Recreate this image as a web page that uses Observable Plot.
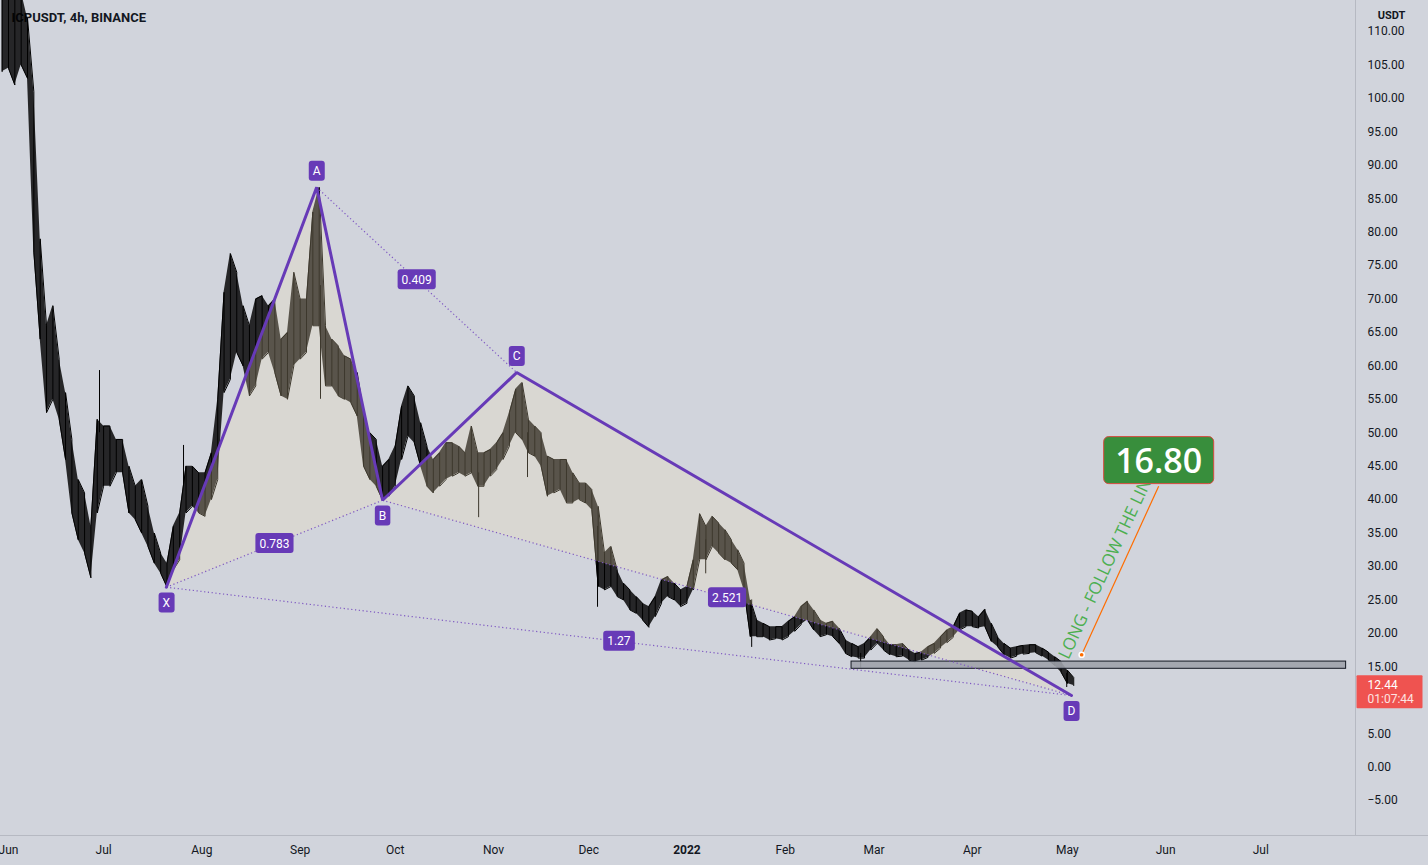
<!DOCTYPE html>
<html>
<head>
<meta charset="utf-8">
<script src="https://cdn.jsdelivr.net/npm/d3@7"></script>
<script src="https://cdn.jsdelivr.net/npm/@observablehq/plot@0.6"></script>
<style>
html, body { margin: 0; padding: 0; background: #d1d4dc; }
#chart { width: 1428px; height: 865px; overflow: hidden; }
</style>
</head>
<body>
<div id="chart"></div>
<script>
// ---------- DATA ----------
const sampleDates = [
"2021-05-30","2021-06-01","2021-06-03","2021-06-05","2021-06-07","2021-06-09","2021-06-11","2021-06-13","2021-06-15","2021-06-17","2021-06-19","2021-06-21","2021-06-23","2021-06-25","2021-06-27","2021-06-29",
"2021-07-01","2021-07-03","2021-07-05","2021-07-07","2021-07-09","2021-07-11","2021-07-13","2021-07-15","2021-07-17","2021-07-19","2021-07-21","2021-07-23","2021-07-25","2021-07-27","2021-07-29","2021-07-31",
"2021-08-02","2021-08-04","2021-08-06","2021-08-08","2021-08-10","2021-08-12","2021-08-14","2021-08-16","2021-08-18","2021-08-20","2021-08-22","2021-08-24","2021-08-26","2021-08-28","2021-08-30",
"2021-09-01","2021-09-03","2021-09-05","2021-09-07","2021-09-09","2021-09-11","2021-09-13","2021-09-15","2021-09-17","2021-09-19","2021-09-21","2021-09-23","2021-09-25","2021-09-27","2021-09-29",
"2021-10-01","2021-10-03","2021-10-05","2021-10-07","2021-10-09","2021-10-11","2021-10-13","2021-10-15","2021-10-17","2021-10-19","2021-10-21","2021-10-23","2021-10-25","2021-10-27","2021-10-29","2021-10-31",
"2021-11-02","2021-11-04","2021-11-06","2021-11-08","2021-11-10","2021-11-12","2021-11-14","2021-11-16","2021-11-18","2021-11-20","2021-11-22","2021-11-24","2021-11-26","2021-11-28","2021-11-30",
"2021-12-02","2021-12-04","2021-12-06","2021-12-08","2021-12-10","2021-12-12","2021-12-14","2021-12-16","2021-12-18","2021-12-20","2021-12-22","2021-12-24","2021-12-26","2021-12-28","2021-12-30",
"2022-01-01","2022-01-03","2022-01-05","2022-01-07","2022-01-09","2022-01-11","2022-01-13","2022-01-15","2022-01-17","2022-01-19","2022-01-21","2022-01-23","2022-01-25","2022-01-27","2022-01-29","2022-01-31",
"2022-02-02","2022-02-04","2022-02-06","2022-02-08","2022-02-10","2022-02-12","2022-02-14","2022-02-16","2022-02-18","2022-02-20","2022-02-22","2022-02-24","2022-02-26","2022-02-28",
"2022-03-02","2022-03-04","2022-03-06","2022-03-08","2022-03-10","2022-03-12","2022-03-14","2022-03-16","2022-03-18","2022-03-20","2022-03-22","2022-03-24","2022-03-26","2022-03-28","2022-03-30",
"2022-04-01","2022-04-03","2022-04-05","2022-04-07","2022-04-09","2022-04-11","2022-04-13","2022-04-15","2022-04-17","2022-04-19","2022-04-21","2022-04-23","2022-04-25","2022-04-27","2022-04-29",
"2022-05-01","2022-05-03"
];
const highs = [
118,118,117,116,112,101,79,66,69,61,56,49,43,41,36,52,
51,51,49,49,45,42,43,39,35,32,30.5,36,38,45,45,44,
44,47,55,71,76.8,74,69,66,70,70.5,69,70,64,65,74,
70,70,83,86.7,66,64,63,61.5,61,59,53,50,49,45,46,
48,54,57,55.5,51.5,48,46,47,48.5,48.5,48,47,51,47,47,47.5,
48.5,50,53,56.5,57.5,52,51,50,46.5,46,46,46,44,42.5,42.5,
41.5,39,32,33,29.5,27.5,26.5,25.5,24.5,24,25.5,28,28.5,27.5,26.5,
27,31,37.9,36,37.5,36.5,35.5,34,32.5,30.5,25,22,21.5,21,21,21,
21.8,22.5,24,24.8,23.5,22,21.5,21.8,20.8,19,18.5,18,18.5,19.5,
20.7,19.5,18.3,18.3,18.5,17.5,17,17.2,18,18.5,19.5,20.5,21,23,23.5,
23.3,22.5,23.6,21.5,19.5,18.5,17.8,18,18.2,18.3,18.3,17.8,17.2,16.5,15.8,
14.5,13.4
];
const lows = [
104,104.5,102,105,103,77,64,53,55,52,46,38,34,32,28.3,38,
42,42,44,44,38,37,35,33,30.5,29,26.9,29.5,31,38,39,38,
37.5,40,43,56,58,62,60,55.5,57,61,62,59,55.5,55,60,
61,62,66,66,57,57,55.5,55,54.5,52.5,45,43,42,39.9,40.5,
42,46,49.5,48.5,45,42,41,42,43,43.5,44,43.5,44,42,42,43.5,
44.5,46,48,50,49,47,46.5,45,40.5,41,41.5,39.5,39.5,40,39.5,
38.5,27,26.5,27,25.5,25,23.5,23,22,20.9,22.5,24.5,25.5,25,24,
24.5,26.5,31,31,33,32,31,30.5,29.5,26.5,19.5,19.5,19.5,19,19.2,19,
19.5,20.3,21.3,22,20.5,19.5,19.8,19.5,18.5,17,16.5,16.3,16.3,17.5,
18.5,17.5,16.8,16.5,16.6,16,15.7,16,16.4,17,17.8,18.6,19.4,20.5,21,
21,20.8,21,18.8,18,16.8,16.3,16.6,16.9,17,17.1,16.6,16,15.2,14.2,
12.5,12.2
];
// long wicks
const spikeDates = ["2021-06-29T17:00Z","2021-07-26T05:00Z","2021-09-07T10:00Z","2021-10-27T07:00Z","2021-11-11T17:00Z","2021-12-03T19:00Z","2022-01-06T22:00Z","2022-01-21T10:00Z","2022-02-24T19:00Z","2022-04-30T19:00Z"];
const spikeFrom  = [50, 42, 72, 44, 50, 36, 34, 25, 17, 14];
const spikeTo    = [59.3, 48.1, 55, 37.3, 43.3, 23.9, 28.9, 17.9, 14.8, 11.9];

// harmonic pattern
const patternNames  = ["X","A","B","C","D"];
const patternDates  = ["2021-07-20T19:00Z","2021-09-06T05:00Z","2021-09-27T00:00Z","2021-11-08T07:00Z","2022-05-02T07:00Z"];
const patternPrices = [26.9, 86.7, 39.9, 59.0, 10.7];
const patternLabelPos = ["below","above","below","above","below"];
const ratioPairs = [[0,2],[1,3],[2,4],[0,4]];
const ratioTexts = ["0.783","0.409","2.521","1.27"];

// support zone
const zoneStart = ["2022-02-21T22:00Z"];
const zoneEnd   = ["2022-07-27T22:00Z"];
const zoneLow   = [14.7];
const zoneHigh  = [15.78];

// target arrow
const targetDates  = ["2022-05-05T12:00Z","2022-05-29T19:00Z"];
const targetPrices = [16.8, 42.0];
const targetText = "16.80";
const noteText = "LONG - FOLLOW THE LINE";
const noteDate = "2022-05-13T12:00Z";
const notePrice = 30.3;

// last price
const lastPrice = 12.44;
const lastPriceText = "12.44";
const countdownText = "01:07:44";

// axes (10.00 is hidden behind the last-price tag in the reference)
const priceTicks = [-5,0,5,15,20,25,30,35,40,45,50,55,60,65,70,75,80,85,90,95,100,105,110];
const monthTickDates = ["2021-06-01","2021-07-01","2021-08-01","2021-09-01","2021-10-01","2021-11-01","2021-12-01","2022-01-01","2022-02-01","2022-03-01","2022-04-01","2022-05-01","2022-06-01","2022-07-01"];
const monthTickLabels = ["Jun","Jul","Aug","Sep","Oct","Nov","Dec","2022","Feb","Mar","Apr","May","Jun","Jul"];
const title = "ICPUSDT, 4h, BINANCE";
const currency = "USDT";

// ---------- BUILD ----------
const priceRows = sampleDates.map((d, i) => ({date: new Date(d), hi: highs[i], lo: lows[i]}));
// path through each sample's low/high (alternating order) -> candle-like texture
const zigRows = priceRows.flatMap((r, i) => i % 2 === 0
  ? [{date: r.date, v: r.lo}, {date: r.date, v: r.hi}]
  : [{date: r.date, v: r.hi}, {date: r.date, v: r.lo}]);
const spikeRows = spikeDates.map((d, i) => ({date: new Date(d), from: spikeFrom[i], to: spikeTo[i]}));
const pts = patternNames.map((n, i) => ({name: n, date: new Date(patternDates[i]), price: patternPrices[i], pos: patternLabelPos[i]}));
const triRows = [
  ...[0,1,2].map(i => ({...pts[i], tri: "XAB"})),
  ...[2,3,4].map(i => ({...pts[i], tri: "BCD"}))
];
const pairRows = ratioPairs.map(([a, b], k) => ({
  d1: pts[a].date, p1: pts[a].price, d2: pts[b].date, p2: pts[b].price,
  mid: new Date((+pts[a].date + +pts[b].date) / 2), midP: (pts[a].price + pts[b].price) / 2,
  text: ratioTexts[k]
}));
const zoneRows = zoneStart.map((s, i) => ({start: new Date(s), end: new Date(zoneEnd[i]), lo: zoneLow[i], hi: zoneHigh[i]}));
const targetRow = [{d1: new Date(targetDates[0]), p1: targetPrices[0], d2: new Date(targetDates[1]), p2: targetPrices[1]}];
const monthTicks = monthTickDates.map(d => new Date(d));
const monthLabel = new Map(monthTicks.map((d, i) => [+d, monthTickLabels[i]]));

const PURPLE = "#673ab7";
const chart = Plot.plot({
  width: 1428,
  height: 865,
  marginLeft: 0,
  marginRight: 73,
  marginTop: 0,
  marginBottom: 30,
  style: {background: "#d1d4dc", fontFamily: "Roboto, sans-serif", fontSize: "12px", color: "#131722"},
  x: {type: "utc", domain: [new Date("2021-05-29T11:30Z"), new Date("2022-07-30T21:00Z")]},
  y: {domain: [-10.23, 114.64]},
  marks: [
    Plot.text([title], {frameAnchor: "top-left", dx: 11, dy: 17, textAnchor: "start", lineAnchor: "middle", fontWeight: "bold", fontSize: 13, fill: "#131722"}),
    // price
    Plot.areaY(priceRows, {x: "date", y1: "lo", y2: "hi", fill: "#000", fillOpacity: 0.82, clip: true}),
    Plot.line(zigRows, {x: "date", y: "v", stroke: "#000", strokeWidth: 1, strokeLinejoin: "miter", clip: true}),
    Plot.ruleX(spikeRows, {x: "date", y1: "from", y2: "to", stroke: "#000", strokeWidth: 1, clip: true}),
    // pattern fill
    Plot.line(triRows, {x: "date", y: "price", z: "tri", fill: "#f5deb3", fillOpacity: 0.25, stroke: "none"}),
    // support zone
    Plot.rect(zoneRows, {x1: "start", x2: "end", y1: "lo", y2: "hi", fill: "#9fa2ab", fillOpacity: 0.9, stroke: "#131722", strokeWidth: 1}),
    // dotted ratio lines
    Plot.link(pairRows, {x1: "d1", y1: "p1", x2: "d2", y2: "p2", stroke: "#7e57c2", strokeWidth: 1.2, strokeDasharray: "1.2,2.6"}),
    // solid pattern
    Plot.line(pts, {x: "date", y: "price", stroke: PURPLE, strokeWidth: 3, strokeLinejoin: "miter"}),
    // labels
    Plot.text(pts, {filter: d => d.pos === "above", x: "date", y: "price", text: "name", dy: -16, fill: "white", fontSize: 12}),
    Plot.text(pts, {filter: d => d.pos === "below", x: "date", y: "price", text: "name", dy: 16, fill: "white", fontSize: 12}),
    Plot.text(pairRows, {x: "mid", y: "midP", text: "text", fill: "white", fontSize: 12}),
    // note + target
    Plot.text([noteText], {x: () => new Date(noteDate), y: () => notePrice, rotate: -65, fill: "#4caf50", fontSize: 17, fontFamily: "Open Sans", textAnchor: "middle"}),
    Plot.link(targetRow, {x1: "d1", y1: "p1", x2: "d2", y2: "p2", stroke: "#ff6d00", strokeWidth: 1.2}),
    Plot.dot(targetRow, {x: "d1", y: "p1", r: 2.6, fill: "#ff6d00", stroke: "white", strokeWidth: 1.5}),
    Plot.text(targetRow, {x: "d2", y: "p2", text: () => targetText, dy: -24, fill: "white", fontSize: 34, fontWeight: 600, fontFamily: "Open Sans"}),
    // axes
    Plot.axisY(priceTicks, {anchor: "right", tickSize: 0, tickPadding: 12, tickFormat: d3.format(".2f"), fontSize: 12, fill: "#131722"}),
    Plot.axisX(monthTicks.filter(d => monthLabel.get(+d) !== "2022"), {tickSize: 0, tickPadding: 10, tickFormat: d => monthLabel.get(+d), fontSize: 12, fill: "#131722"}),
    Plot.axisX(monthTicks.filter(d => monthLabel.get(+d) === "2022"), {tickSize: 0, tickPadding: 10, tickFormat: d => monthLabel.get(+d), fontSize: 12, fontWeight: "bold", fill: "#131722"}),
    Plot.text([currency], {frameAnchor: "top-right", dx: 36, dy: 15, lineAnchor: "middle", textAnchor: "middle", fontSize: 11, fontWeight: "bold", fill: "#131722"}),
    Plot.text([lastPrice], {y: d => d, text: () => lastPriceText, frameAnchor: "right", dx: 12, dy: 1.5, textAnchor: "start", fill: "white", fontSize: 12}),
    Plot.text([lastPrice], {y: d => d, text: () => countdownText, frameAnchor: "right", dx: 12, dy: 15.5, textAnchor: "start", fill: "#fde3e1", fontSize: 12})
  ]
});
document.getElementById("chart").appendChild(chart);

// ---------- label boxes (placed behind the texts Plot drew) ----------
const NS = "http://www.w3.org/2000/svg";
const svg = chart.tagName.toLowerCase() === "svg" ? chart : chart.querySelector("svg");
function addBox(t, o) {
  const b = t.getBBox();
  const W = o.w != null ? o.w : b.width + 2 * o.padX;
  const H = o.h != null ? o.h : b.height + 2 * o.padY;
  const r = document.createElementNS(NS, "rect");
  r.setAttribute("x", o.x != null ? o.x(b) : b.x + b.width / 2 - W / 2);
  r.setAttribute("y", o.y != null ? o.y(b) : b.y + b.height / 2 - H / 2 + (o.shiftY || 0));
  r.setAttribute("width", W);
  r.setAttribute("height", H);
  r.setAttribute("rx", o.rx || 0);
  r.setAttribute("fill", o.fill);
  if (o.stroke) { r.setAttribute("stroke", o.stroke); r.setAttribute("stroke-width", o.strokeWidth || 1); }
  if (t.getAttribute("transform")) r.setAttribute("transform", t.getAttribute("transform"));
  t.parentNode.insertBefore(r, t);
}
const labelSet = new Set([...patternNames, ...ratioTexts]);
Array.from(svg.querySelectorAll("text")).forEach(t => {
  const s = t.textContent;
  if (labelSet.has(s)) addBox(t, {padX: 4, h: 20, rx: 3, fill: PURPLE, shiftY: -0.5});
  else if (s === targetText) addBox(t, {w: 110, h: 47, rx: 5, fill: "#388e3c", stroke: "#d84a3f", strokeWidth: 1, shiftY: 0});
  else if (s === lastPriceText) addBox(t, {x: b => b.x - 11, y: b => b.y + b.height / 2 - 10, w: 66, h: 33, rx: 1, fill: "#ef5350"});
});

// pane separators
function sep(x1, y1, x2, y2) {
  const l = document.createElementNS(NS, "line");
  l.setAttribute("x1", x1); l.setAttribute("y1", y1); l.setAttribute("x2", x2); l.setAttribute("y2", y2);
  l.setAttribute("stroke", "#b6b9c2"); l.setAttribute("stroke-width", 1);
  svg.prepend(l);
}
sep(1355.5, 0, 1355.5, 835.5);
sep(0, 835.5, 1428, 835.5);
</script>
</body>
</html>
